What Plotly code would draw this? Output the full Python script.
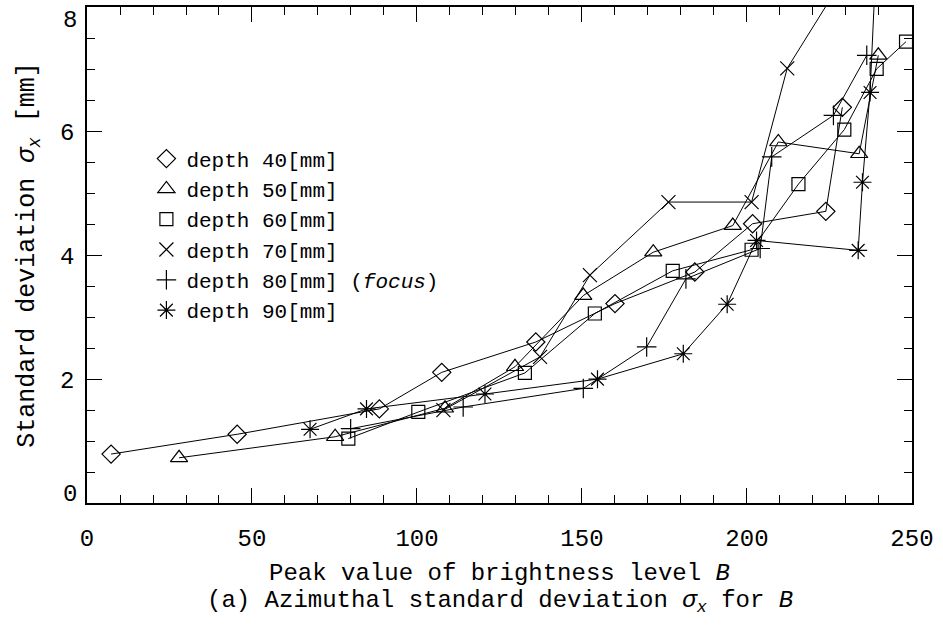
import plotly.graph_objects as go

# ---- data ----
x40 = [7.3, 45.5, 88.6, 107.5, 136.0, 160.0, 184.2, 201.7, 223.9, 228.9]
y40 = [0.79, 1.11, 1.52, 2.11, 2.60, 3.22, 3.73, 4.51, 4.71, 6.39]

x50 = [27.9, 75.2, 108.5, 129.7, 150.4, 171.6, 195.7, 209.5, 234.0, 239.8]
y50 = [0.73, 1.07, 1.53, 2.20, 3.35, 4.05, 4.48, 5.83, 5.64, 7.23]

x60 = [79.2, 100.4, 132.7, 153.9, 177.5, 201.4, 215.6, 229.5, 239.3, 248.2]
y60 = [1.04, 1.47, 2.10, 3.06, 3.75, 4.09, 5.15, 6.03, 7.01, 7.45]

x70 = [108.0, 137.3, 152.4, 176.2, 201.4, 212.2, 229.5]
y70 = [1.50, 2.36, 3.68, 4.86, 4.86, 7.02, 8.50]

x80 = [79.9, 114.0, 150.4, 169.6, 181.5, 204.0, 207.5, 226.2, 236.3]
y80 = [1.20, 1.55, 1.85, 2.52, 3.62, 4.11, 5.59, 6.26, 7.23]

x90 = [67.6, 84.7, 120.6, 154.7, 180.7, 194.0, 202.9, 233.7, 235.0, 237.3, 239.0]
y90 = [1.19, 1.52, 1.76, 2.00, 2.41, 3.21, 4.24, 4.08, 5.18, 6.63, 8.60]

labels = ["depth 40[mm]", "depth 50[mm]", "depth 60[mm]", "depth 70[mm]",
          "depth 80[mm] (<i>focus</i>)", "depth 90[mm]"]
symbols = ["diamond-open", "triangle-up-open", "square-open", "x-thin-open",
           "cross-thin-open", "asterisk-open"]
sizes = [14, 15, 13, 14, 14, 15]

xticks = [0, 50, 100, 150, 200, 250]
yticks = [0, 2, 4, 6, 8]
# end labels of the y axis are drawn slightly inside the frame in the reference
yedge = {0: 9, 8: -13}   # vertical pixel offsets for the edge tick labels

FONT = "Liberation Mono"

fig = go.Figure()
series = [(x40, y40), (x50, y50), (x60, y60), (x70, y70), (x80, y80), (x90, y90)]
for (xs, ys), lab, sym, sz in zip(series, labels, symbols, sizes):
    fig.add_trace(go.Scatter(
        x=xs, y=ys, mode="lines+markers", showlegend=False,
        line=dict(color="black", width=1),
        marker=dict(symbol=sym, size=sz, color="black",
                    line=dict(color="black", width=1.2)),
        cliponaxis=True,
    ))
# legend-only entries (marker only)
for lab, sym, sz in zip(labels, symbols, sizes):
    fig.add_trace(go.Scatter(
        x=[None], y=[None], mode="markers", name=lab,
        marker=dict(symbol=sym, size=sz, color="black",
                    line=dict(color="black", width=1.2)),
    ))

axis_common = dict(
    showline=True, linecolor="black", linewidth=1.5, mirror="ticks",
    ticks="inside", tickcolor="black", tickwidth=1.3, ticklen=15,
    showgrid=False, zeroline=False,
    tickfont=dict(family=FONT, size=24, color="black"),
    automargin=False,
)

fig.update_xaxes(
    range=[0, 250.01], tickvals=xticks, ticktext=[str(v) for v in xticks],
    minor=dict(ticks="inside", dtick=10, tick0=0, ticklen=8, tickcolor="black", tickwidth=1),
    ticklabelstandoff=12,
    title=dict(text="Peak value of brightness level <i>B</i>",
               font=dict(family=FONT, size=24, color="black"), standoff=12),
    **axis_common,
)
fig.update_yaxes(
    range=[0, 8.01], tickvals=yticks,
    ticktext=["" if v in yedge else str(v) for v in yticks],
    minor=dict(ticks="inside", dtick=0.5, tick0=0, ticklen=8, tickcolor="black", tickwidth=1),
    ticklabelstandoff=6,
    title=dict(text="Standard deviation <i>σ<sub>x</sub></i> [mm]",
               font=dict(family=FONT, size=25, color="black"), standoff=18),
    **axis_common,
)

for v, dy in yedge.items():
    fig.add_annotation(
        text=str(v), xref="paper", yref="y", x=0, y=v, xanchor="right", yanchor="middle",
        xshift=-8, yshift=dy, showarrow=False,
        font=dict(family=FONT, size=24, color="black"),
    )

fig.add_annotation(
    text="(a) Azimuthal standard deviation <i>σ<sub>x</sub></i> for <i>B</i>",
    xref="paper", yref="paper", x=0.5, y=-0.2, xanchor="center", yanchor="middle",
    showarrow=False, font=dict(family=FONT, size=24, color="black"),
)

fig.update_layout(
    width=943, height=635,
    margin=dict(l=87, r=31, t=7, b=132, autoexpand=False),
    paper_bgcolor="white", plot_bgcolor="white",
    legend=dict(x=0.072, y=0.735, xanchor="left", yanchor="top",
                font=dict(family=FONT, size=21, color="black"),
                bgcolor="rgba(0,0,0,0)", itemwidth=30, tracegroupgap=0),
)

fig.write_html("out.html")
